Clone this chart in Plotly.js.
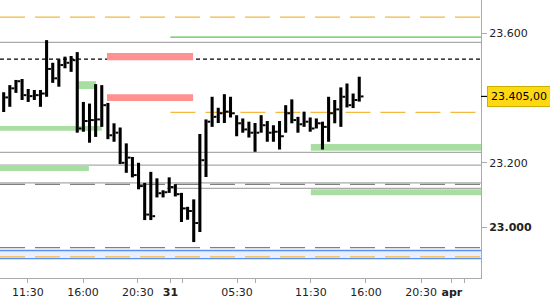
<!DOCTYPE html>
<html><head><meta charset="utf-8">
<script src="https://cdn.plot.ly/plotly-3.0.1.min.js"></script>
<style>html,body{margin:0;padding:0;background:#fff}#chart{width:550px;height:300px}</style>
</head><body><div id="chart"></div>
<script>
// 30-minute bars (slot index)
const slots = [0,1,2,3,4,5,6,7,8,9,10,11,12,13,14,15,16,17,18,19,20,21,22,23,24,25,26,27,28,29,30,31,32,33,34,35,36,37,38,39,40,41,42,43,44,45,46,47,48,49,50,51,52,53,54,55,56,57,58];
const highs = [23.418,23.440,23.456,23.459,23.428,23.425,23.425,23.579,23.509,23.520,23.528,23.530,23.542,23.388,23.383,23.443,23.440,23.385,23.322,23.309,23.260,23.218,23.200,23.138,23.172,23.152,23.115,23.155,23.134,23.107,23.064,23.087,23.289,23.334,23.404,23.370,23.412,23.404,23.347,23.337,23.327,23.323,23.347,23.329,23.316,23.329,23.378,23.396,23.342,23.358,23.340,23.337,23.327,23.404,23.394,23.433,23.445,23.414,23.466];
const lows = [23.357,23.373,23.416,23.394,23.388,23.394,23.373,23.404,23.447,23.435,23.492,23.481,23.293,23.296,23.262,23.280,23.311,23.273,23.265,23.196,23.169,23.155,23.118,23.023,23.023,23.093,23.093,23.107,23.096,23.017,23.024,22.955,22.986,23.156,23.311,23.323,23.323,23.340,23.282,23.293,23.278,23.234,23.293,23.265,23.265,23.241,23.293,23.322,23.293,23.311,23.296,23.306,23.241,23.265,23.322,23.311,23.371,23.369,23.389];
const closes = [23.402,23.430,23.452,23.409,23.406,23.409,23.414,23.490,23.461,23.502,23.509,23.517,23.306,23.329,23.332,23.334,23.378,23.285,23.293,23.200,23.216,23.162,23.128,23.040,23.035,23.106,23.109,23.125,23.103,23.059,23.051,23.014,23.208,23.327,23.342,23.353,23.358,23.353,23.322,23.303,23.293,23.293,23.316,23.293,23.296,23.282,23.353,23.332,23.319,23.327,23.306,23.322,23.311,23.353,23.365,23.404,23.378,23.394,23.405];
const lastPrice = 23.405;
const lastPriceText = '23.405,00';

const yTickVals = [23.0, 23.2, 23.6];
const yTickText = ['<b>23.000</b>', '23.200', '23.600'];
const xTickVals = [3.96, 12.94, 21.9, 27.2, 29.1, 38.06, 41.0, 50.1, 59.1, 68.1, 73.1, 75.2];
const xTickText = ['11:30', '16:00', '20:30', '<b>31</b>', '', '05:30', '', '11:30', '16:00', '20:30', '<b>apr</b>', ''];

// price levels
const greySolidLevels = [23.572, 23.232, 23.193, 23.138];
const greyDashedLevels = [23.133, 22.938];
const blackDashedLevels = [23.520];
const orangeDashedLevels = [23.650, 22.909];
const greyPartialLevels = [23.121];
const greenPartialLevels = [23.588];
const orangePartialLevels = [23.356];
const redZones = [[23.517, 23.539], [23.391, 23.412]];
const greenZonesLeft = [[23.299, 23.314], [23.175, 23.193]];
const greenZoneShort = [[23.428, 23.452]];
const greenZonesRight = [[23.237, 23.258], [23.100, 23.118]];
const blueChannel = [22.904, 22.929];

const shapes = [];
function hline(y, color, width, dash, x0, x1) {
  const full = (x0 === undefined);
  shapes.push({type: 'line', layer: 'below', xref: full ? 'paper' : 'x', yref: 'y',
    x0: full ? 0 : x0, x1: full ? 1 : x1, y0: y, y1: y,
    line: {color: color, width: width, dash: dash || 'solid'}});
}
function zone(lo, hi, color, x0, x1) {
  const fullL = (x0 === null), fullR = (x1 === null);
  shapes.push({type: 'rect', layer: 'below', xref: 'x', yref: 'y',
    x0: fullL ? -0.6 : x0, x1: fullR ? 77.86 : x1, y0: lo, y1: hi,
    fillcolor: color, line: {width: 0}});
}
// blue channel
shapes.push({type: 'rect', layer: 'below', xref: 'paper', yref: 'y', x0: 0, x1: 1,
  y0: blueChannel[0], y1: blueChannel[1], fillcolor: '#e9efff', line: {width: 0}});
blueChannel.forEach(v => hline(v, '#5b8ff0', 1.3));
greenZonesLeft.forEach((z, k) => zone(z[0], z[1], '#a8dea2', null, k === 0 ? 16 : 13.9));
greenZoneShort.forEach(z => zone(z[0], z[1], '#a8dea2', 12, 15.06));
greenZonesRight.forEach(z => zone(z[0], z[1], '#a8dea2', 50.1, null));
redZones.forEach(z => zone(z[0], z[1], '#ff9191', 16.85, 30.9));
greySolidLevels.forEach(v => hline(v, '#aaaaaa', 1.3));
greyDashedLevels.forEach(v => hline(v, '#7f7f7f', 1.3, '25px,10px'));
blackDashedLevels.forEach(v => hline(v, '#000000', 1.2, '4px,3px'));
orangeDashedLevels.forEach(v => hline(v, '#f5b840', 1.3, '25px,10px'));
greyPartialLevels.forEach(v => hline(v, '#aaaaaa', 1.3, 'solid', 26.6, 77.86));
greenPartialLevels.forEach(v => hline(v, '#5cbf52', 1.3, 'solid', 27.2, 77.86));
orangePartialLevels.forEach(v => hline(v, '#f5b840', 1.3, '25px,10px', 27.2, 77.86));
// last price marker tick on axis
shapes.push({type: 'line', xref: 'paper', yref: 'y', x0: 1, x1: 1.013, y0: lastPrice, y1: lastPrice,
  line: {color: '#000', width: 1.2}});

const stems = {
  type: 'bar', x: slots, base: lows, y: highs.map((h, i) => h - lows[i]),
  width: 0.5, marker: {color: '#000', line: {width: 0}}, hoverinfo: 'skip', showlegend: false
};
// close ticks as short segments to the right of each stem
const tickX = [], tickY = [];
slots.forEach((s, i) => { tickX.push(s + 0.25, s + 0.7, null); tickY.push(closes[i], closes[i], null); });
const closeTicks = {
  type: 'scatter', mode: 'lines', x: tickX, y: tickY, connectgaps: false,
  line: {color: '#000', width: 2}, hoverinfo: 'skip', showlegend: false
};

const layout = {
  width: 550, height: 300,
  margin: {l: 0, r: 69, t: 0, b: 22, pad: 0},
  paper_bgcolor: '#fff', plot_bgcolor: '#fff',
  font: {family: 'DejaVu Sans, Verdana, sans-serif', size: 11, color: '#222'},
  showlegend: false,
  xaxis: {range: [-0.6, 77.86], showgrid: false, zeroline: false, showline: true,
    linecolor: '#aaaaaa', linewidth: 1, ticks: 'outside', ticklen: 4, tickcolor: '#aaaaaa',
    tickmode: 'array', tickvals: xTickVals, ticktext: xTickText, tickfont: {size: 11, color: '#222'}},
  yaxis: {range: [22.844, 23.703], side: 'right', showgrid: false, zeroline: false, showline: true,
    linecolor: '#aaaaaa', linewidth: 1, ticks: 'outside', ticklen: 5, tickcolor: '#aaaaaa',
    tickmode: 'array', tickvals: yTickVals, ticktext: yTickText, tickfont: {size: 11, color: '#222'}},
  shapes: shapes,
  annotations: [{xref: 'paper', yref: 'y', x: 1, y: lastPrice, xshift: 6, xanchor: 'left', yanchor: 'middle',
    text: lastPriceText, showarrow: false, bgcolor: '#ffd814', bordercolor: '#c9b000', borderwidth: 1,
    borderpad: 3, font: {size: 11, color: '#000'}}]
};
Plotly.newPlot('chart', [stems, closeTicks], layout, {staticPlot: true, displayModeBar: false});
</script></body></html>
